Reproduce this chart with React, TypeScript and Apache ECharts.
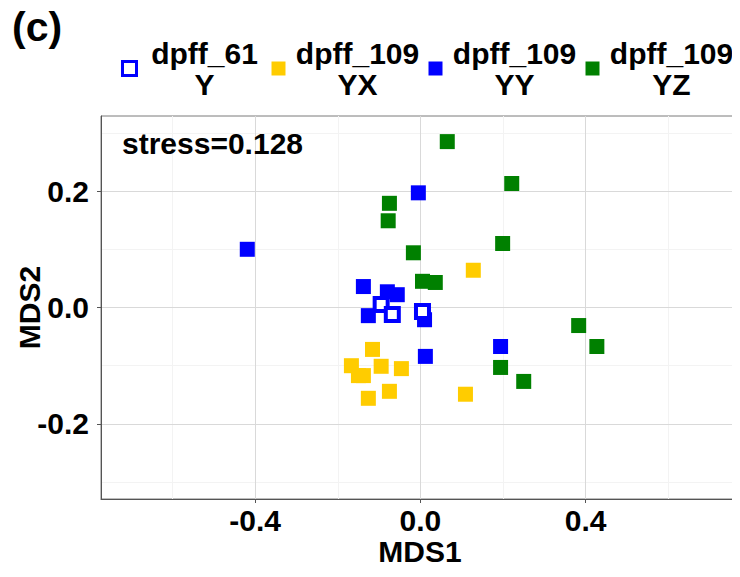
import React, { useEffect, useRef } from "react";
import * as echarts from "echarts";

// ---- data (MDS1, MDS2) ----
const seriesNames = ["dpff_61 Y", "dpff_109 YX", "dpff_109 YY", "dpff_109 YZ"];
const labelTop = ["dpff_61", "dpff_109", "dpff_109", "dpff_109"];
const labelBottom = ["Y", "YX", "YY", "YZ"];

const dpff61Y: number[][] = [
  [-0.095, 0.005],
  [-0.068, -0.012],
  [0.005, -0.007],
];
const dpff109YX: number[][] = [
  [-0.167, -0.1],
  [-0.15, -0.117],
  [-0.138, -0.117],
  [-0.116, -0.072],
  [-0.095, -0.101],
  [-0.046, -0.105],
  [-0.075, -0.144],
  [-0.126, -0.156],
  [0.109, -0.149],
  [0.128, 0.064],
];
const dpff109YY: number[][] = [
  [-0.419, 0.1],
  [-0.005, 0.197],
  [-0.138, 0.036],
  [-0.08, 0.027],
  [-0.056, 0.022],
  [-0.126, -0.014],
  [0.01, -0.021],
  [0.012, -0.084],
  [0.194, -0.067],
];
const dpff109YZ: number[][] = [
  [0.065, 0.285],
  [0.221, 0.213],
  [-0.075, 0.179],
  [-0.078, 0.149],
  [-0.017, 0.094],
  [0.199, 0.11],
  [0.005, 0.045],
  [0.036, 0.043],
  [0.383, -0.031],
  [0.427, -0.067],
  [0.194, -0.103],
  [0.25, -0.127],
];

const xTicks = [-0.4, 0.0, 0.4];
const xMinorTicks = [-0.6, -0.2, 0.2, 0.6];
const yTicks = [-0.2, 0.0, 0.2];
const yMinorTicks = [-0.3, -0.1, 0.1, 0.3];
const xRange = [-0.773, 0.771];
const yRange = [-0.329, 0.329];
const stressText = "stress=0.128";
const panelLabel = "(c)";

const FONT = "'Liberation Sans', Arial, Helvetica, sans-serif";

export default function App() {
  const ref = useRef<HTMLDivElement>(null);

  useEffect(() => {
    if (!ref.current) return;
    const chart = echarts.init(ref.current, undefined, { renderer: "svg" });

    const colors = ["#0000ff", "#ffcc00", "#0000ff", "#008000"];
    const boxW = [126, 134, 134, 134];
    const rich: Record<string, any> = {};
    boxW.forEach((w, i) => {
      rich["t" + i] = {
        width: w,
        align: "center",
        fontSize: 30,
        fontWeight: "bold",
        fontFamily: FONT,
        color: "#000",
        lineHeight: 31,
      };
    });

    const filled = (name: string, data: number[][], color: string) => ({
      type: "scatter",
      name,
      data,
      symbol: "rect",
      symbolSize: 15,
      itemStyle: { color, opacity: 1 },
      z: 2,
    });

    const option: any = {
      animation: false,
      backgroundColor: "#ffffff",
      textStyle: { fontFamily: FONT },
      graphic: [
        {
          type: "text",
          left: 12,
          top: 6,
          style: {
            text: panelLabel,
            fontSize: 41,
            fontWeight: "bold",
            fontFamily: FONT,
            fill: "#000",
          },
        },
        {
          type: "text",
          x: 122,
          y: 143,
          z: 10,
          style: {
            text: stressText,
            fontSize: 30,
            fontWeight: "bold",
            fontFamily: FONT,
            fill: "#000",
            verticalAlign: "middle",
          },
        },
      ],
      legend: {
        left: 121,
        top: 38,
        width: 619,
        padding: 0,
        itemGap: 4,
        itemWidth: 14,
        itemHeight: 14,
        data: seriesNames.map((n, i) => ({
          name: n,
          icon: "rect",
          itemStyle:
            i === 0
              ? { color: "#ffffff", borderColor: "#0000ff", borderWidth: 3 }
              : { color: colors[i], borderWidth: 0 },
        })),
        formatter: (name: string) => {
          const i = seriesNames.indexOf(name);
          return `{t${i}|${labelTop[i]}}\n{t${i}|${labelBottom[i]}}`;
        },
        textStyle: {
          fontSize: 30,
          fontWeight: "bold",
          fontFamily: FONT,
          color: "#000",
          rich,
        },
      },
      grid: {
        left: 101,
        top: 116,
        width: 638,
        height: 383,
        show: true,
        borderColor: "#7a7a7a",
        borderWidth: 1,
        containLabel: false,
        outerBoundsMode: "none",
      },
      xAxis: [
        {
          type: "value",
          min: xRange[0],
          max: xRange[1],
          name: "MDS1",
          nameLocation: "middle",
          nameGap: 37,
          nameMoveOverlap: false,
          nameTextStyle: { fontSize: 30, fontWeight: "bold", color: "#000", fontFamily: FONT },
          axisLine: { show: true, onZero: false, lineStyle: { color: "#555", width: 1 } },
          axisTick: { show: true, length: 4, customValues: xTicks, lineStyle: { color: "#555" } },
          axisLabel: {
            customValues: xTicks,
            margin: 6,
            fontSize: 30,
            fontWeight: "bold",
            color: "#000",
            fontFamily: FONT,
            formatter: (v: number) => v.toFixed(1),
          },
          splitLine: { show: true, lineStyle: { color: "#d9d9d9", width: 1 } },
          z: 1,
        },
        {
          type: "value",
          gridIndex: 0,
          min: xRange[0],
          max: xRange[1],
          position: "bottom",
          axisLine: { show: false, onZero: false },
          axisTick: { show: false, customValues: xMinorTicks },
          axisLabel: { show: false, customValues: xMinorTicks },
          splitLine: { show: true, lineStyle: { color: "#f3f3f3", width: 1 } },
          z: 0,
        },
      ],
      yAxis: [
        {
          type: "value",
          min: yRange[0],
          max: yRange[1],
          name: "MDS2",
          nameLocation: "middle",
          nameGap: 57,
          nameRotate: 90,
          nameMoveOverlap: false,
          nameTextStyle: { fontSize: 30, fontWeight: "bold", color: "#000", fontFamily: FONT },
          axisLine: { show: true, onZero: false, lineStyle: { color: "#555", width: 1 } },
          axisTick: { show: true, length: 4, customValues: yTicks, lineStyle: { color: "#555" } },
          axisLabel: {
            customValues: yTicks,
            margin: 12,
            fontSize: 30,
            fontWeight: "bold",
            color: "#000",
            fontFamily: FONT,
            formatter: (v: number) => v.toFixed(1),
          },
          splitLine: { show: true, lineStyle: { color: "#d9d9d9", width: 1 } },
          z: 1,
        },
        {
          type: "value",
          gridIndex: 0,
          min: yRange[0],
          max: yRange[1],
          position: "left",
          axisLine: { show: false, onZero: false },
          axisTick: { show: false, customValues: yMinorTicks },
          axisLabel: { show: false, customValues: yMinorTicks },
          splitLine: { show: true, lineStyle: { color: "#f3f3f3", width: 1 } },
          z: 0,
        },
      ],
      series: [
        {
          type: "scatter",
          name: seriesNames[0],
          data: dpff61Y,
          symbol: "rect",
          symbolSize: 13,
          itemStyle: { color: "#ffffff", borderColor: "#0000ff", borderWidth: 4, opacity: 1 },
          z: 4,
        },
        filled(seriesNames[1], dpff109YX, colors[1]),
        filled(seriesNames[2], dpff109YY, colors[2]),
        filled(seriesNames[3], dpff109YZ, colors[3]),
      ],
    };

    chart.setOption(option);
    return () => chart.dispose();
  }, []);

  return <div ref={ref} style={{ width: 740, height: 577, margin: -8 }} />;
}
